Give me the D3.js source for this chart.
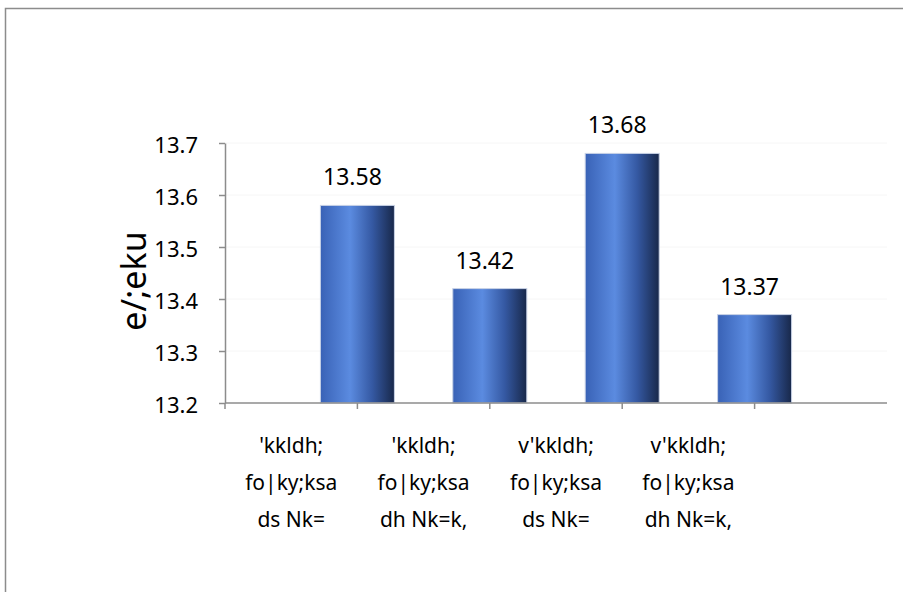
<!DOCTYPE html>
<html>
<head>
<meta charset="utf-8">
<script src="https://cdn.jsdelivr.net/npm/d3@7"></script>
<style>
  body { margin: 0; background: #fff; }
  svg text { font-family: "Noto Sans", "Open Sans", sans-serif; fill: #000; }
</style>
</head>
<body>
<div id="chart"></div>
<script>
// Chart data
const categories = [
    ["'kkldh;", "fo|ky;ksa", "ds Nk="],
    ["'kkldh;", "fo|ky;ksa", "dh Nk=k,"],
    ["v'kkldh;", "fo|ky;ksa", "ds Nk="],
    ["v'kkldh;", "fo|ky;ksa", "dh Nk=k,"],
    [""]
];
const values = [13.58, 13.42, 13.68, 13.37];
const yTicks = [13.2, 13.3, 13.4, 13.5, 13.6, 13.7];
const yTitle = "e/;eku";

const W = 903, H = 592;
const margin = { top: 143, right: 16, bottom: 189, left: 225 };
const width = W - margin.left - margin.right;
const height = H - margin.top - margin.bottom;

const root = d3.select("#chart")
    .append("svg")
    .attr("width", W)
    .attr("height", H);

// outer frame (top and left edges visible)
root.append("path")
    .attr("d", `M5.5,${H} V8.5 H${W}`)
    .attr("fill", "none")
    .attr("stroke", "#8c8c8c")
    .attr("stroke-width", 1.5);

// bar gradient
const grad = root.append("defs").append("linearGradient")
    .attr("id", "barGrad")
    .attr("x1", "0%").attr("x2", "100%").attr("y1", "0%").attr("y2", "0%");
grad.append("stop").attr("offset", "0%").attr("stop-color", "#3962b6");
grad.append("stop").attr("offset", "40%").attr("stop-color", "#5b8be0");
grad.append("stop").attr("offset", "70%").attr("stop-color", "#3559a3");
grad.append("stop").attr("offset", "100%").attr("stop-color", "#18284a");

const svg = root.append("g")
    .attr("transform", `translate(${margin.left},${margin.top})`);

// scales
const x = d3.scaleBand()
    .domain(d3.range(categories.length))
    .range([0, width]);

const y = d3.scaleLinear()
    .domain([13.2, 13.7])
    .range([height, 0]);

// faint gridlines
svg.append("g")
    .selectAll("line")
    .data(yTicks.slice(1))
    .enter()
    .append("line")
    .attr("x1", 0)
    .attr("x2", width)
    .attr("y1", d => y(d))
    .attr("y2", d => y(d))
    .attr("stroke", "#f6f6f6");

// bars sit on the boundary to the right of each category slot
const barW = 74;
svg.selectAll(".bar")
    .data(values)
    .enter()
    .append("rect")
    .attr("class", "bar")
    .attr("x", (d, i) => x(i) + x.bandwidth() - barW / 2)
    .attr("y", d => y(d))
    .attr("width", barW)
    .attr("height", d => height - y(d))
    .attr("fill", "url(#barGrad)")
    .attr("stroke", "#c8d2e6")
    .attr("stroke-width", 1);

// value labels
svg.selectAll(".label")
    .data(values)
    .enter()
    .append("text")
    .attr("class", "label")
    .attr("x", (d, i) => x(i) + x.bandwidth() - 5)
    .attr("y", d => y(d) - 20)
    .attr("text-anchor", "middle")
    .style("font-size", "23px")
    .text(d => d.toFixed(2));

// y axis
const yAxis = svg.append("g")
    .call(d3.axisLeft(y).tickValues(yTicks).tickFormat(d3.format(".1f")).tickSize(6).tickSizeOuter(0));
yAxis.select(".domain").attr("stroke", "#8c8c8c").attr("stroke-width", 1.5);
yAxis.selectAll(".tick line").attr("stroke", "#8c8c8c").attr("stroke-width", 1.5);
yAxis.selectAll(".tick text")
    .attr("x", -27)
    .attr("dy", "0.42em")
    .style("font-size", "22px")
    .style("font-family", "'Noto Sans', sans-serif");

// x axis: ticks on band edges
const xEdges = d3.range(categories.length + 1).map(i => i * x.step());
const xAxis = svg.append("g")
    .attr("transform", `translate(0,${height})`);
xAxis.append("line")
    .attr("x1", 0).attr("x2", width)
    .attr("stroke", "#8c8c8c").attr("stroke-width", 1.5);
xAxis.selectAll(".xt")
    .data(xEdges.slice(0, -1))
    .enter()
    .append("line")
    .attr("class", "xt")
    .attr("x1", d => d).attr("x2", d => d)
    .attr("y1", 0).attr("y2", 6)
    .attr("stroke", "#8c8c8c").attr("stroke-width", 1.5);

// category labels, centred in each slot
const catText = xAxis.selectAll(".cat")
    .data(categories)
    .enter()
    .append("text")
    .attr("class", "cat")
    .attr("text-anchor", "middle")
    .attr("x", (d, i) => x(i) + x.bandwidth() / 2)
    .style("font-size", "21px");
catText.selectAll("tspan")
    .data(d => d)
    .enter()
    .append("tspan")
    .attr("x", function () { return this.parentNode.getAttribute("x"); })
    .attr("y", (d, j) => 50 + j * 37)
    .text(d => d);

// y title
svg.append("text")
    .attr("transform", `translate(-79,${height / 2 + 8}) rotate(-90)`)
    .attr("text-anchor", "middle")
    .style("font-size", "34px")
    .text(yTitle);
</script>
</body>
</html>
